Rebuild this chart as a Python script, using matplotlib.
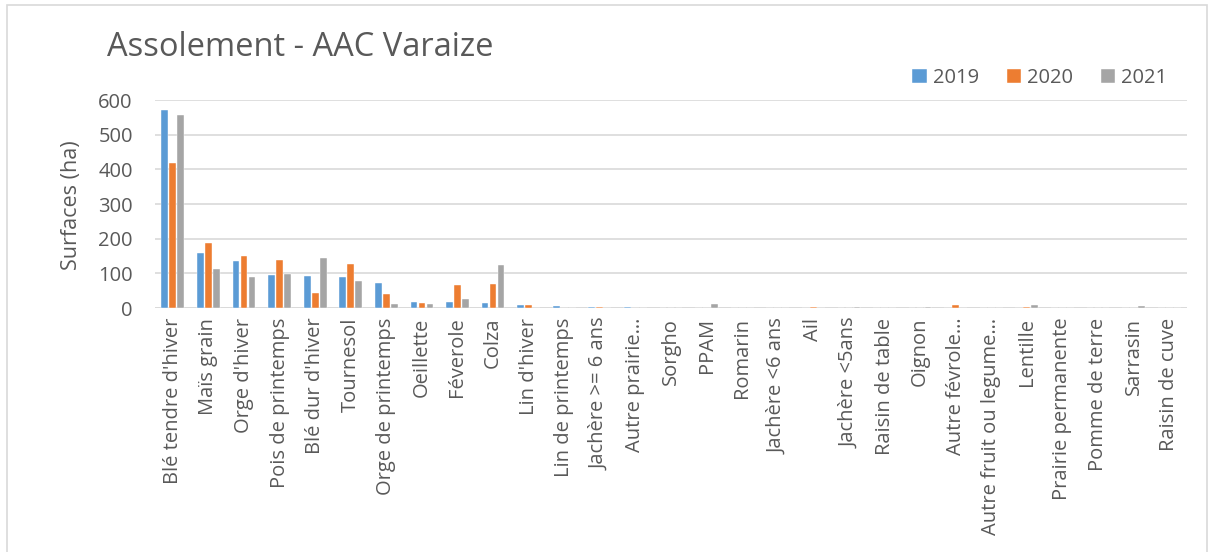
import matplotlib
matplotlib.use("Agg")
import matplotlib.pyplot as plt
import numpy as np
from matplotlib.patches import Rectangle

plt.rcParams['font.family'] = ['Open Sans', 'DejaVu Sans']

categories = ["Blé tendre d'hiver", "Maïs grain", "Orge d'hiver", "Pois de printemps",
              "Blé dur d'hiver", "Tournesol", "Orge de printemps", "Oeillette", "Féverole",
              "Colza", "Lin d'hiver", "Lin de printemps", "Jachère >= 6 ans", "Autre prairie…",
              "Sorgho", "PPAM", "Romarin", "Jachère <6 ans", "Ail", "Jachère <5ans",
              "Raisin de table", "Oignon", "Autre févrole…", "Autre fruit ou legume…",
              "Lentille", "Prairie permanente", "Pomme de terre", "Sarrasin", "Raisin de cuve"]

v2019 = [571, 159, 137, 96, 91, 88, 73, 18, 16, 13, 10, 5, 4, 3,
         1, 0, 0, 0, 0, 0, 0, 0, 0, 0, 0, 0, 0, 0, 0]
v2020 = [417, 187, 149, 138, 44, 126, 40, 15, 67, 70, 8, 0, 4, 0,
         0, 0, 0, 0, 3, 0, 0, 0, 10, 0, 3, 0, 0, 0, 0]
v2021 = [557, 113, 90, 99, 145, 78, 11, 11, 27, 124, 0, 0, 1, 0,
         1, 12, 0, 0, 0, 2, 0, 3, 0, 0, 9, 0, 0, 5, 0]

series = [("2019", v2019, "#5B9BD5"), ("2020", v2020, "#ED7D31"), ("2021", v2021, "#A5A5A5")]
text_color = "#595959"
grid_color = "#D9D9D9"

W, H = 1215, 552
fig = plt.figure(figsize=(W / 100, H / 100), dpi=100)
ax = fig.add_axes([155 / W, 1 - 308 / H, (1187 - 155) / W, (308 - 100) / H])

x = np.arange(len(categories))
bw = 0.19
offs = [-0.225, 0.0, 0.225]
for (name, vals, col), o in zip(series, offs):
    ax.bar(x + o, vals, width=bw, color=col, edgecolor="white", linewidth=0.3,
           label=name, zorder=3)

ax.set_xlim(-0.5, len(categories) - 0.5)
ax.set_ylim(0, 600)
ax.set_yticks([0, 100, 200, 300, 400, 500, 600])
ax.yaxis.grid(True, color=grid_color, linewidth=1.2, zorder=0)
ax.set_axisbelow(True)
for s in ax.spines.values():
    s.set_visible(False)
ax.axhline(0, color=grid_color, linewidth=1.2, zorder=2)
ax.set_xticks(x)
ax.set_xticklabels(categories, rotation=90, va="top", ha="center")
ax.tick_params(axis="both", length=0, colors=text_color, labelsize=14.5)
ax.tick_params(axis="x", pad=7)
ax.tick_params(axis="y", pad=16)

fig.text(300 / W, 1 - 48 / H, "Assolement - AAC Varaize", ha="center", va="center",
         fontsize=23.5, color=text_color)
fig.text(72 / W, 1 - 205 / H, "Surfaces (ha)", ha="center", va="center", rotation=90,
         fontsize=15.5, color=text_color)

leg = fig.legend(loc="center", bbox_to_anchor=(1040 / W, 1 - 78 / H), ncol=3,
                 frameon=False, fontsize=14.5, handlelength=0.7, handleheight=0.7,
                 handletextpad=0.3, columnspacing=1.4, borderpad=0)
for t in leg.get_texts():
    t.set_color(text_color)

fig.patches.append(Rectangle((7 / W, -0.1), (1207 - 7) / W, 1.1 - 5 / H,
                             transform=fig.transFigure, fill=False,
                             edgecolor=grid_color, linewidth=1.2))

fig.savefig("out.png", dpi=100)
